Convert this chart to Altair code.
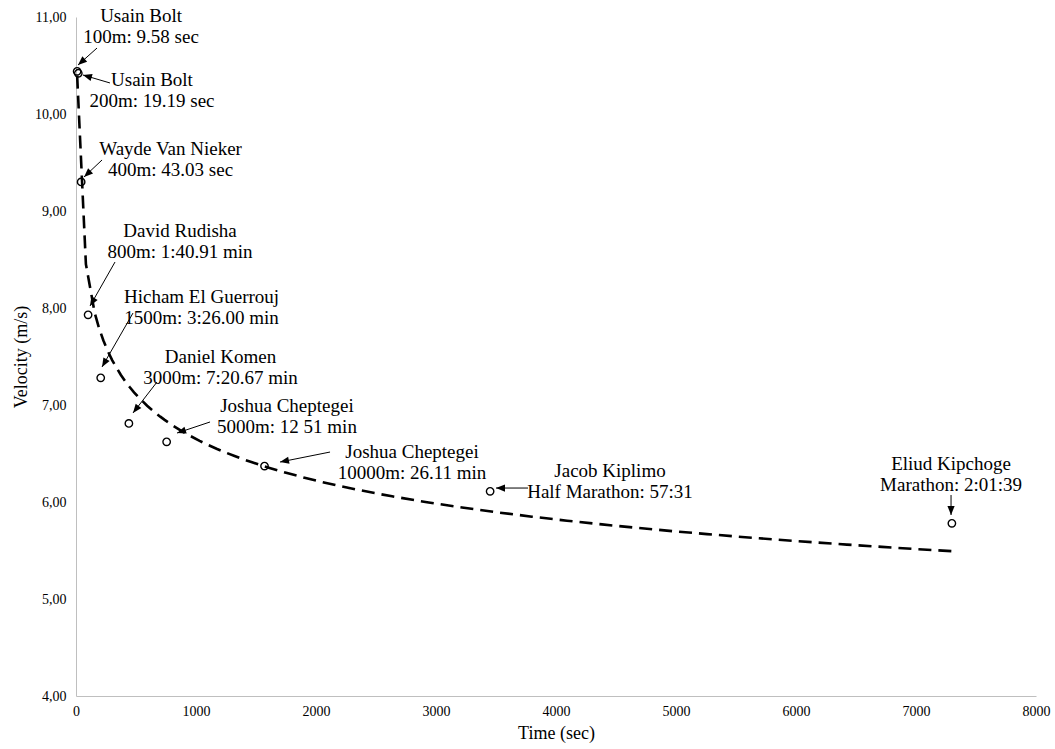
import math
import altair as alt
import pandas as pd

# World-record runs: time in seconds and average velocity in m/s
events = ["100m", "200m", "400m", "800m", "1500m", "3000m", "5000m",
          "10000m", "Half Marathon", "Marathon"]
time_sec = [9.58, 19.19, 43.03, 100.91, 206.00, 440.67, 755.36, 1571.0, 3451.0, 7299.0]
velocity = [10.44, 10.42, 9.30, 7.93, 7.28, 6.81, 6.62, 6.37, 6.11, 5.78]

# Callout text and where its centre sits (in data units)
labels = [
    "Usain Bolt\n100m: 9.58 sec",
    "Usain Bolt\n200m: 19.19 sec",
    "Wayde Van Nieker\n400m: 43.03 sec",
    "David Rudisha\n800m: 1:40.91 min",
    "Hicham El Guerrouj\n1500m: 3:26.00 min",
    "Daniel Komen\n3000m: 7:20.67 min",
    "Joshua Cheptegei\n5000m: 12 51 min",
    "Joshua Cheptegei\n10000m: 26.11 min",
    "Jacob Kiplimo\nHalf Marathon: 57:31",
    "Eliud Kipchoge\nMarathon: 2:01:39",
]
label_t = [542, 633, 788, 867, 1046, 1204, 1758, 2800, 4450, 7292]
label_v = [10.902, 10.247, 9.531, 8.686, 8.010, 7.387, 6.881, 6.407, 6.216, 6.284]

# Arrow tails and heads (data units)
tail_t = [175, 283, 217, 325, 475, 675, 1117, 2117, 3767, 7292]
tail_v = [10.680, 10.320, 9.526, 8.474, 7.948, 7.237, 6.825, 6.515, 6.144, 6.072]
head_t = [17, 58, 67, 117, 217, 475, 842, 1700, 3500, 7292]
head_v = [10.505, 10.402, 9.351, 8.021, 7.392, 6.918, 6.711, 6.412, 6.144, 5.866]

W, H = 960, 679
T_MAX, V_MIN, V_MAX = 8000, 4, 11
FONT = "Liberation Serif"
LINE_H = 21

records = pd.DataFrame({"event": events, "time": time_sec, "velocity": velocity})

# Arrowhead rotation follows the on-screen direction of each arrow
angles = []
for t0, v0, t1, v1 in zip(tail_t, tail_v, head_t, head_v):
    dx = (t1 - t0) * W / T_MAX
    dy = -(v1 - v0) * H / (V_MAX - V_MIN)
    angles.append(math.degrees(math.atan2(dx, -dy)) % 360)

notes = pd.DataFrame({
    "label": labels, "lt": label_t, "lv": label_v,
    "t0": tail_t, "v0": tail_v, "t1": head_t, "v1": head_v, "angle": angles,
})

x_scale = alt.Scale(domain=[0, T_MAX], nice=False, zero=False)
y_scale = alt.Scale(domain=[V_MIN, V_MAX], nice=False, zero=False)

axis_style = dict(domainColor="#bfbfbf", domainWidth=1, ticks=False, grid=False,
                  labelFont=FONT, labelFontSize=14, labelColor="black",
                  labelFlush=False,
                  titleFont=FONT, titleFontSize=18, titleFontWeight="normal",
                  titleColor="black")

x_axis = alt.Axis(title="Time (sec)", values=list(range(0, 8001, 1000)), format="d",
                  labelPadding=8, titlePadding=6, **axis_style)
y_axis = alt.Axis(title="Velocity (m/s)", values=list(range(4, 12)),
                  labelExpr="replace(format(datum.value, '.2f'), '.', ',')",
                  labelPadding=10, titlePadding=4, **axis_style)


def xy(xf, yf):
    return dict(x=alt.X(xf, scale=x_scale, axis=x_axis),
                y=alt.Y(yf, scale=y_scale, axis=y_axis))


trend = (
    alt.Chart(records)
    .transform_regression("time", "velocity", method="pow")
    .mark_line(color="black", strokeWidth=2.6, strokeDash=[13, 7])
    .encode(**xy("time:Q", "velocity:Q"))
)

points = (
    alt.Chart(records)
    .mark_point(shape="circle", filled=False, color="black", size=55, strokeWidth=1.4,
                opacity=1)
    .encode(**xy("time:Q", "velocity:Q"))
)

shafts = (
    alt.Chart(notes)
    .mark_rule(color="black", strokeWidth=1)
    .encode(**xy("t0:Q", "v0:Q"), x2="t1:Q", y2="v1:Q")
)

heads = (
    alt.Chart(notes)
    .mark_point(shape="M0,0L-0.8,2L0.8,2Z", filled=True, color="black",
                size=81, opacity=1, strokeWidth=0)
    .encode(**xy("t1:Q", "v1:Q"), angle=alt.Angle("angle:Q", scale=None))
)

texts = (
    alt.Chart(notes)
    .mark_text(font=FONT, fontSize=19, lineBreak="\n", lineHeight=LINE_H,
               align="center", baseline="middle", color="black", dy=-LINE_H / 2)
    .encode(**xy("lt:Q", "lv:Q"), text="label:N")
)

chart = (
    alt.layer(trend, points, shafts, heads, texts)
    .properties(width=W, height=H, background="white",
                autosize=alt.AutoSizeParams(type="none"),
                padding={"left": 76, "top": 17, "right": 19, "bottom": 53})
    .configure_view(strokeWidth=0)
    .configure_axis(**axis_style)
)

chart.save("out.html", embed_options={"renderer": "svg", "actions": False})
